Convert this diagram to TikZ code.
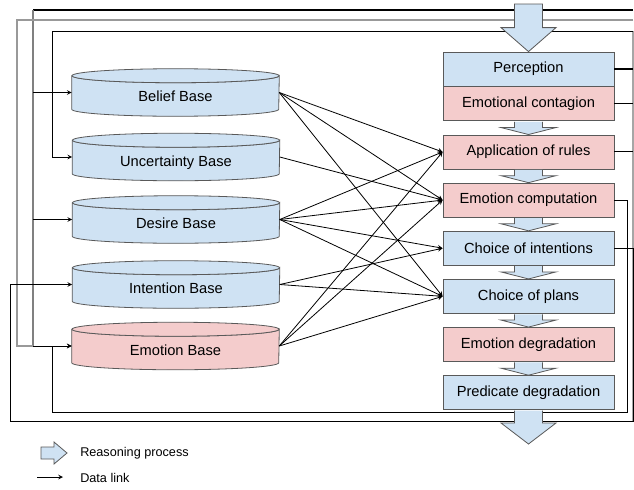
\documentclass[tikz,border=0pt]{standalone}
\usepackage{fontspec}
\setmainfont{Liberation Sans}
\usetikzlibrary{positioning,calc,arrows}
\definecolor{procblue}{HTML}{CFE2F3}
\definecolor{procred}{HTML}{F4CCCC}
\definecolor{edgegray}{HTML}{595959}
\pgfdeclarelayer{back}
\pgfsetlayers{back,main}
\tikzset{
  stage/.style={rectangle, draw=edgegray, line width=0.6pt, minimum width=128.25pt,
    minimum height=25.5pt, inner sep=0pt, font=\fontsize{11}{13}\selectfont},
  basecyl/.style={rectangle, minimum width=155.25pt, minimum height=35.25pt, inner sep=0pt,
    text height=14pt, text depth=0pt, font=\fontsize{11}{13}\selectfont},
  link/.style={-stealth, line width=0.6pt},
  busline/.style={line width=0.8pt},
  flow/.style={fill=procblue, draw=edgegray, line width=0.6pt},
  legend/.style={anchor=west, inner sep=0pt, font=\fontsize{9.5}{11}\selectfont}
}
% cylinder outline behind a base node
\newcommand{\drawbase}[2]{%
  \begin{pgfonlayer}{back}
    \path[fill=#2, draw=edgegray, line width=0.6pt]
      ($(#1.north west)+(0,7)$) -- ($(#1.south west)+(0,-7)$)
      arc[start angle=180, end angle=0, x radius=103.5, y radius=7]
      -- ($(#1.north east)+(0,7)$)
      arc[start angle=0, end angle=180, x radius=103.5, y radius=7] -- cycle;
    \draw[fill=#2, draw=edgegray, line width=0.6pt] ($(#1.north)+(0,7)$) ellipse[x radius=103.5, y radius=7];
  \end{pgfonlayer}}
% big process arrow from #1 down to #2, head length #3
\newcommand{\flowarrow}[3]{%
  \draw[flow] ($(#1)+(-14,0.6)$) -- ($(#2)+(-14,-#3)$) -- ($(#2)+(-27.5,-#3)$) -- (#2)
    -- ($(#2)+(27.5,-#3)$) -- ($(#2)+(14,-#3)$) -- ($(#1)+(14,0.6)$);}

\begin{document}
\begin{tikzpicture}[x=0.75pt, y=-0.75pt, node distance=10pt]
  \useasboundingbox (0,0) rectangle (634,489);
  \begin{pgfonlayer}{back}
    \fill[white] (0,0) rectangle (634,489);
  \end{pgfonlayer}
  \clip (0,0) rectangle (634,489);

  % knowledge bases
  \node[basecyl] (belief) at (175.5,92.5) {Belief Base};
  \node[basecyl] (uncert) at (176,157) {Uncertainty Base};
  \node[basecyl] (desire) at (176,219.5) {Desire Base};
  \node[basecyl] (intbase) at (176,284.5) {Intention Base};
  \node[basecyl] (emobase) at (175.5,346) {Emotion Base};
  \drawbase{belief}{procblue}
  \drawbase{uncert}{procblue}
  \drawbase{desire}{procblue}
  \drawbase{intbase}{procblue}
  \drawbase{emobase}{procred}

  % reasoning steps
  \node[stage, fill=procblue] (perc) at (528.5,69) {Perception};
  \node[stage, fill=procred, below=0pt of perc] (contag) {Emotional contagion};
  \node[stage, fill=procred, below=of contag] (apply) {Application of rules};
  \node[stage, fill=procred, below=of apply] (emocomp) {Emotion computation};
  \node[stage, fill=procblue, below=of emocomp] (intent) {Choice of intentions};
  \node[stage, fill=procblue, below=of intent] (plans) {Choice of plans};
  \node[stage, fill=procred, below=of plans] (emodeg) {Emotion degradation};
  \node[stage, fill=procblue, below=of emodeg] (preddeg) {Predicate degradation};

  % feedback lines
  \coordinate (busA) at (33,10);
  \coordinate (busB) at (17,20);
  \coordinate (busC) at (52,31);
  \coordinate (rim) at (633,0);
  \coordinate (loopR) at (627,412);
  \coordinate (loopL) at (10,421);
  \draw[busline, gray!70] (busC -| rim) -- (loopL -| rim);
  \draw[line width=1.6pt] (busA -| rim) -- (busA);
  \draw[busline, gray] (busA) -- (busA |- emobase.west);
  \draw[busline, gray!80] (busB -| rim) -- (busB) |- (busA |- emobase.west);
  \draw[link] (busA |- belief.west) -- (belief.west);
  \draw[link] (busA |- desire.west) -- (desire.west);
  \draw[link] (busA |- emobase.west) -- (emobase.west);
  \draw[link] (busC -| rim) -- (busC) |- (uncert.west);
  \draw[busline] (perc.east) -- (perc.east -| rim);
  \draw[busline] (contag.east) -- (contag.east -| rim);
  \draw[busline] (apply.east) -- (apply.east -| rim);
  \draw[link] (emocomp.east) -| (loopR) -| (busC |- emobase.west) -- (emobase.west);
  \draw[link] (intent.east) -- (intent.east -| rim) |- (loopL) |- (intbase.west);

  % data links
  \foreach \tgt in {apply,emocomp,plans}
    \draw[link] (belief.east) -- (\tgt.west);
  \draw[link] (uncert.east) -- (emocomp.west);
  \foreach \tgt in {apply,emocomp,intent,plans}
    \draw[link] (desire.east) -- (\tgt.west);
  \foreach \tgt in {intent,plans}
    \draw[link] (intbase.east) -- (\tgt.west);
  \foreach \tgt in {apply,emocomp,plans}
    \draw[link] (emobase.east) -- (\tgt.west);

  % reasoning process arrows
  \coordinate (flowin) at (528.5,4);
  \coordinate (flowout) at (528.5,444);
  \draw[flow] ($(flowin)+(-14,0)$) -- ($(perc.north)+(-14,-24)$) -- ($(perc.north)+(-27.5,-24)$)
    -- (perc.north) -- ($(perc.north)+(27.5,-24)$) -- ($(perc.north)+(14,-24)$)
    -- ($(flowin)+(14,0)$) -- cycle;
  \flowarrow{contag.south}{apply.north}{7}
  \flowarrow{apply.south}{emocomp.north}{7}
  \flowarrow{emocomp.south}{intent.north}{7}
  \flowarrow{intent.south}{plans.north}{7}
  \flowarrow{plans.south}{emodeg.north}{7}
  \flowarrow{emodeg.south}{preddeg.north}{7}
  \flowarrow{preddeg.south}{flowout}{21}

  % legend
  \draw[flow] (41,447) -- (54,447) -- (54,442) -- (67,453) -- (54,464) -- (54,459) -- (41,459) -- cycle;
  \node[legend] (legflow) at (80,453) {Reasoning process};
  \coordinate (legA) at (37,477);
  \coordinate (legB) at (63,477);
  \draw[link] (legA) -- (legB);
  \node[legend] (leglink) at (80,478) {Data link};
\end{tikzpicture}
\end{document}
